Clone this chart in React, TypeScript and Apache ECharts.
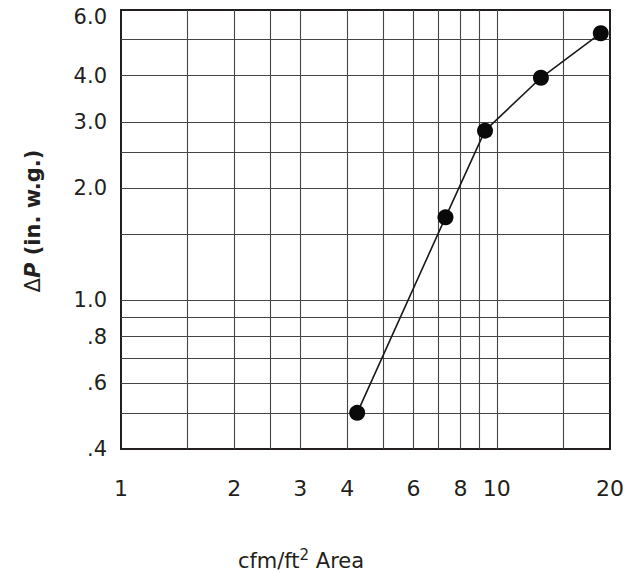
import React, { useEffect, useRef } from "react";
import * as echarts from "echarts";

// Data (log-log plot)
const flowValues = [4.25, 7.3, 9.3, 13.1, 18.9]; // cfm/ft2 Area
const pressureValues = [0.5, 1.67, 2.85, 3.95, 5.2]; // ΔP (in. w.g.)

const xGridValues = [1.5, 2, 2.5, 3, 4, 5, 6, 7, 8, 9, 10, 15];
const yGridValues = [0.5, 0.6, 0.7, 0.8, 0.9, 1.0, 1.5, 2, 2.5, 3, 4, 5];

const xTickValues = [1, 2, 3, 4, 6, 8, 10, 20];
const xTickLabels = ["1", "2", "3", "4", "6", "8", "10", "20"];
const yTickValues = [0.4, 0.6, 0.8, 1, 2, 3, 4, 6];
const yTickLabels = [".4", ".6", ".8", "1.0", "2.0", "3.0", "4.0", "6.0"];

const FONT = "'DejaVu Sans', Verdana, sans-serif";
const TEXT = "#231f20";

function labelIndex(values: number[], v: number): number {
  for (let i = 0; i < values.length; i++) {
    if (Math.abs(values[i] - v) / values[i] < 1e-6) return i;
  }
  return -1;
}

export default function App() {
  const ref = useRef<HTMLDivElement>(null);

  useEffect(() => {
    if (!ref.current) return;
    const chart = echarts.init(ref.current, undefined, { renderer: "svg" });
    const data = flowValues.map((x, i) => [x, pressureValues[i]]);

    chart.setOption({
      animation: false,
      backgroundColor: "#ffffff",
      grid: {
        left: 121,
        right: 34,
        top: 10,
        bottom: 124,
        show: true,
        borderColor: "#231f20",
        borderWidth: 2,
        backgroundColor: "transparent",
        containLabel: false,
        outerBoundsMode: "none",
      },
      xAxis: {
        type: "log",
        logBase: 10,
        min: 1,
        max: 20,
        axisLine: { show: false },
        axisTick: { show: false, customValues: xGridValues },
        splitLine: { show: true, lineStyle: { color: "#444444", width: 1.1 } },
        minorSplitLine: { show: false },
        axisLabel: {
          customValues: xTickValues,
          formatter: (v: number) => {
            const i = labelIndex(xTickValues, v);
            return i >= 0 ? xTickLabels[i] : "";
          },
          fontSize: 22,
          fontFamily: FONT,
          color: TEXT,
          margin: 28,
        },
      },
      yAxis: {
        type: "log",
        logBase: 10,
        min: 0.4,
        max: 6,
        axisLine: { show: false },
        axisTick: { show: false, customValues: yGridValues },
        splitLine: { show: true, lineStyle: { color: "#444444", width: 1.1 } },
        axisLabel: {
          customValues: yTickValues,
          formatter: (v: number) => {
            const i = labelIndex(yTickValues, v);
            if (i < 0) return "";
            return i === yTickValues.length - 1 ? "{top|" + yTickLabels[i] + "}" : yTickLabels[i];
          },
          fontSize: 21,
          fontFamily: FONT,
          color: TEXT,
          margin: 14,
          rich: {
            top: { fontSize: 21, fontFamily: FONT, color: TEXT, padding: [14, 0, 0, 0] },
          },
        },
      },
      series: [
        {
          type: "line",
          data,
          symbol: "circle",
          symbolSize: 16,
          itemStyle: { color: "#0a0a0a" },
          lineStyle: { color: "#1a1a1a", width: 1.6 },
          z: 5,
        },
      ],
      graphic: [
        {
          type: "text",
          x: 33,
          y: 221,
          rotation: Math.PI / 2,
          style: {
            text: "{d|Δ}{p|P}{b| (in. w.g.)}",
            align: "center",
            verticalAlign: "middle",
            fill: TEXT,
            rich: {
              d: { fontSize: 21, fontFamily: FONT, fontWeight: "normal", fill: TEXT },
              p: { fontSize: 21, fontFamily: FONT, fontWeight: "bold", fontStyle: "italic", fill: TEXT },
              b: { fontSize: 21, fontFamily: FONT, fontWeight: "bold", fill: TEXT },
            },
          },
        },
        {
          type: "text",
          x: 301,
          y: 561,
          style: {
            text: "{a|cfm/ft}{s|2}{a| Area}",
            align: "center",
            verticalAlign: "middle",
            fill: TEXT,
            rich: {
              a: { fontSize: 21, fontFamily: FONT, fill: TEXT, lineHeight: 28 },
              s: { fontSize: 15, fontFamily: FONT, fill: TEXT, verticalAlign: "top", lineHeight: 28 },
            },
          },
        },
      ],
    });

    return () => chart.dispose();
  }, []);

  return (
    <div
      ref={ref}
      style={{ position: "fixed", left: 0, top: 0, width: 644, height: 573, background: "#fff" }}
    />
  );
}
